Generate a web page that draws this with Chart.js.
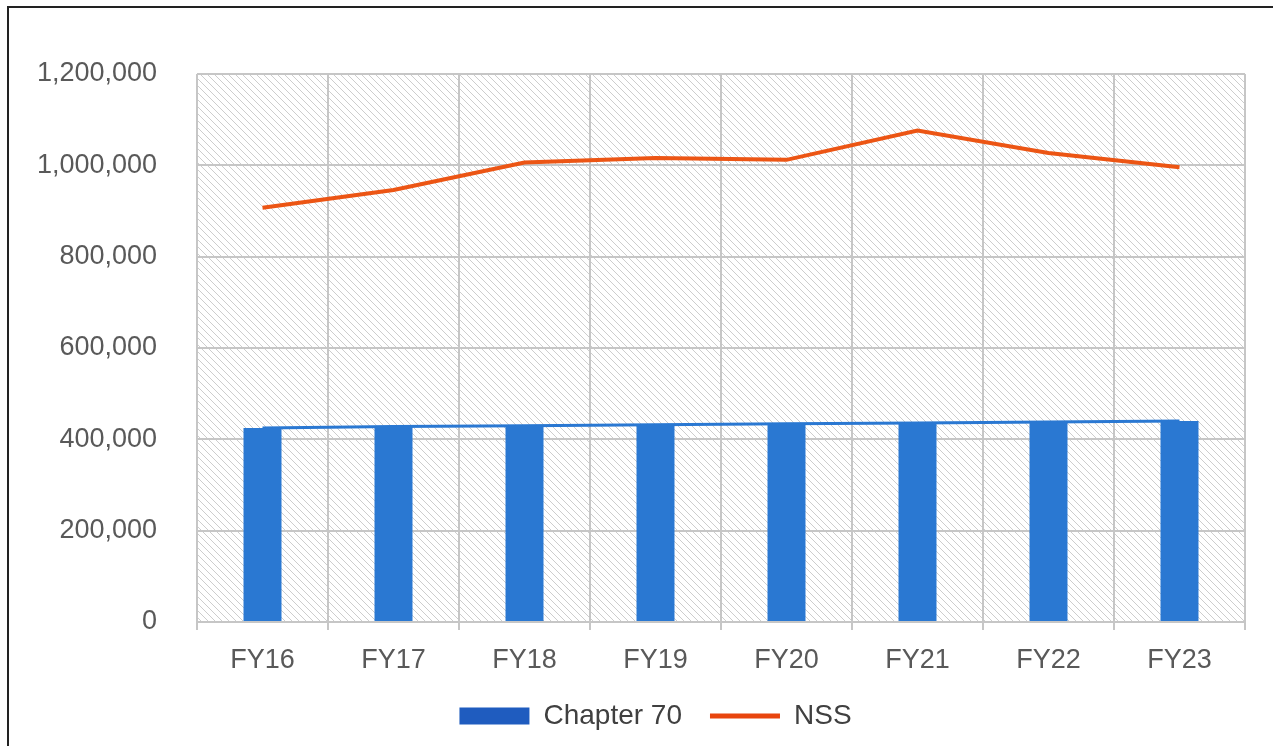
<!DOCTYPE html>
<html>
<head>
<meta charset="utf-8">
<script src="https://cdn.jsdelivr.net/npm/chart.js@4/dist/chart.umd.min.js"></script>
<style>
  html, body { margin: 0; padding: 0; background: #fff; overflow: hidden; }
  #wrap { position: absolute; left: 0; top: 0; width: 1273px; height: 746px; }
  #frame { position: absolute; left: 7px; top: 6px; width: 1400px; height: 900px;
           border-left: 2px solid #222; border-top: 2px solid #222; pointer-events: none; }
</style>
</head>
<body>
<div id="wrap"><canvas id="c" width="1273" height="746"></canvas></div>
<div id="frame"></div>
<script>
const categories = ['FY16', 'FY17', 'FY18', 'FY19', 'FY20', 'FY21', 'FY22', 'FY23'];
const chapter70 = [425000, 428000, 430000, 432000, 434000, 436000, 438000, 440000];
const nss = [907000, 946000, 1006000, 1016000, 1012000, 1076000, 1027000, 996000];
const yTicks = [0, 200000, 400000, 600000, 800000, 1000000, 1200000];

const FONT = '"Liberation Sans", Arial, sans-serif';

function makeHatch() {
  const s = 7;
  const p = document.createElement('canvas');
  p.width = s; p.height = s;
  const g = p.getContext('2d');
  g.fillStyle = '#ffffff';
  g.fillRect(0, 0, s, s);
  g.strokeStyle = '#cdcdcd';
  g.lineWidth = 1;
  g.beginPath();
  g.moveTo(-1, -1); g.lineTo(s + 1, s + 1);
  g.moveTo(-1, s - 1); g.lineTo(1, s + 1);
  g.moveTo(s - 1, -1); g.lineTo(s + 1, 1);
  g.stroke();
  return p;
}

const hatchPlugin = {
  id: 'hatch',
  afterLayout(chart) {
    const lg = chart.legend;
    if (lg) {
      lg.left += 33; lg.right += 33;
      lg.top -= 6; lg.bottom -= 6;
    }
  },
  beforeDraw(chart) {
    const { ctx, chartArea: a } = chart;
    ctx.save();
    ctx.fillStyle = '#ffffff';
    ctx.fillRect(0, 0, chart.width, chart.height);
    ctx.fillStyle = ctx.createPattern(makeHatch(), 'repeat');
    ctx.fillRect(a.left, a.top, a.right - a.left, a.bottom - a.top);
    ctx.restore();
  }
};

new Chart(document.getElementById('c'), {
  data: {
    labels: categories,
    datasets: [
      {
        type: 'bar',
        label: 'Chapter 70',
        data: chapter70,
        backgroundColor: '#2a78d2',
        borderWidth: 0,
        barPercentage: 0.29,
        categoryPercentage: 1.0,
        order: 1
      },
      {
        type: 'line',
        label: 'NSS',
        data: nss,
        borderColor: '#ec5514',
        backgroundColor: '#ec5514',
        borderWidth: 4,
        pointRadius: 0,
        tension: 0,
        order: 2
      },
      {
        type: 'line',
        label: 'Chapter 70 trend',
        data: chapter70,
        borderColor: '#2a78d2',
        borderWidth: 3,
        pointRadius: 0,
        tension: 0,
        order: 3
      }
    ]
  },
  options: {
    responsive: false,
    animation: false,
    layout: { padding: { left: 0, right: 28, top: 74, bottom: 0 } },
    plugins: {
      tooltip: { enabled: false },
      legend: {
        position: 'bottom',
        labels: {
          font: { family: FONT, size: 28 },
          color: '#404040',
          usePointStyle: true,
          pointStyleWidth: 70,
          boxHeight: 17,
          padding: 28,
          filter: (item) => item.datasetIndex !== 2,
          generateLabels(chart) {
            const items = Chart.defaults.plugins.legend.labels.generateLabels(chart);
            items.forEach(it => {
              if (it.datasetIndex === 0) {
                it.pointStyle = 'rect';
                it.fillStyle = '#1f5cbf';
                it.strokeStyle = '#1f5cbf';
                it.lineWidth = 0;
              } else if (it.datasetIndex === 1) {
                it.pointStyle = 'line';
                it.strokeStyle = '#e8450e';
                it.lineWidth = 5;
              }
            });
            return items;
          }
        }
      }
    },
    scales: {
      x: {
        offset: true,
        grid: { offset: true, color: '#c6c6c6', lineWidth: 2, drawTicks: true, tickLength: 8, tickColor: '#c6c6c6' },
        border: { color: '#c6c6c6', width: 2 },
        ticks: { font: { family: FONT, size: 27 }, color: '#595959', padding: 14 },
        afterFit(scale) { scale.height = 58; }
      },
      y: {
        min: 0,
        max: 1200000,
        afterBuildTicks(scale) { scale.ticks = yTicks.map(v => ({ value: v })); },
        grid: { color: '#c6c6c6', lineWidth: 2, drawTicks: false },
        border: { display: false },
        ticks: {
          font: { family: FONT, size: 27 },
          color: '#595959',
          padding: 40,
          callback: (v) => Number(v).toLocaleString('en-US')
        },
        afterFit(scale) { scale.width = 197; }
      }
    }
  },
  plugins: [hatchPlugin]
});
</script>
</body>
</html>
